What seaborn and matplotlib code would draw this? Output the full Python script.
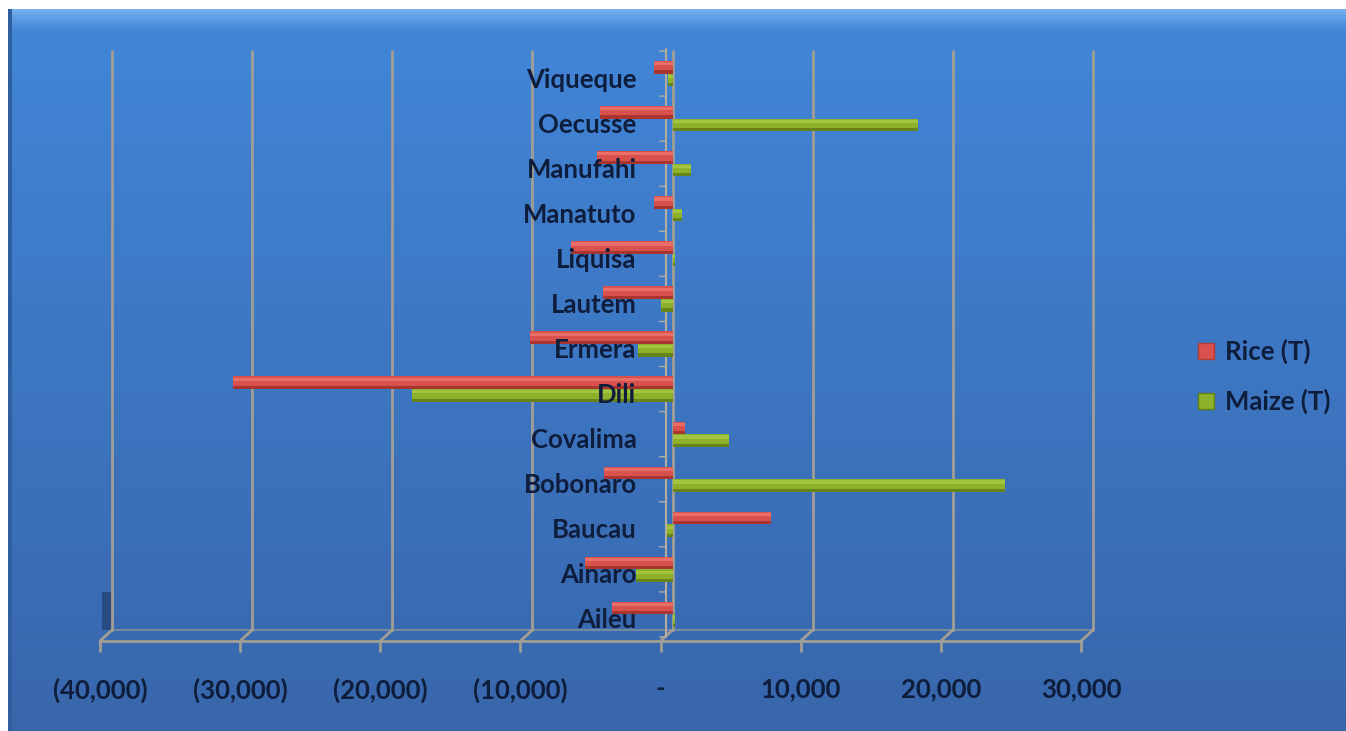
import numpy as np
import pandas as pd
import matplotlib
matplotlib.use("Agg")
import matplotlib.pyplot as plt
import seaborn as sns
from matplotlib.patches import Patch, Rectangle
from matplotlib.transforms import ScaledTranslation, blended_transform_factory
import matplotlib.colors as mcolors

# District production balance (tonnes), listed top to bottom
districts = ["Viqueque", "Oecusse", "Manufahi", "Manatuto", "Liquisa", "Lautem",
             "Ermera", "Dili", "Covalima", "Bobonaro", "Baucau", "Ainaro", "Aileu"]
rice_t = [-1350, -5200, -5400, -1300, -7250, -5000,
          -10200, -31400, 900, -4900, 7000, -6250, -4350]
maize_t = [-300, 17500, 1350, 650, 150, -800,
           -2500, -18600, 4000, 23700, -400, -2600, 200]
x_ticks = [-40000, -30000, -20000, -10000, 0, 10000, 20000, 30000]
x_tick_labels = ["(40,000)", "(30,000)", "(20,000)", "(10,000)", "-",
                 "10,000", "20,000", "30,000"]
series = ["Rice (T)", "Maize (T)"]

df = pd.DataFrame({
    "District": districts * 2,
    "Crop": [series[0]] * len(districts) + [series[1]] * len(districts),
    "Tonnes": rice_t + maize_t,
})

sns.set_theme(style="white")
plt.rcParams["font.family"] = ["Lato", "DejaVu Sans"]

W, H = 1346, 731
fig = plt.figure(figsize=(W / 100, H / 100), dpi=100)
fig.patch.set_facecolor("white")

# blue gradient chart background with a soft bevelled top edge
bg = fig.add_axes([8 / W, 0, 1 - 8 / W, 1 - 9 / H])
bg.set_axis_off()
top_c = np.array(mcolors.to_rgb("#4286d8"))
bot_c = np.array(mcolors.to_rgb("#3866ab"))
bevel_c = np.array(mcolors.to_rgb("#7ab2f0"))
t = np.linspace(0, 1, 700)[:, None]
base = top_c[None, :] * (1 - t) + bot_c[None, :] * t
glow = np.clip(1 - t / 0.035, 0, 1) ** 1.5
grad = (base * (1 - glow) + bevel_c[None, :] * glow)[:, None, :]
bg.imshow(grad, aspect="auto", extent=[0, 1, 0, 1], origin="upper")
bg.add_patch(Rectangle((0, 0), 0.003, 1, color="#2f5f9e", lw=0))
bg.set_xlim(0, 1)
bg.set_ylim(0, 1)

ax = fig.add_axes([112 / W, (H - 637) / H, 981 / W, 586 / H])
ax.patch.set_alpha(0)

red = "#d9514c"
green = "#8db12a"
sns.barplot(data=df, y="District", x="Tonnes", hue="Crop", order=districts,
            hue_order=series, palette=[red, green], saturation=1, width=0.56,
            orient="h", ax=ax, legend=False, edgecolor="none", linewidth=0,
            zorder=3)

# cylinder-like shading on each bar
edge_cols = {mcolors.to_hex(red): "#a8352f", mcolors.to_hex(green): "#66841a"}
light_cols = {mcolors.to_hex(red): "#ec766e", mcolors.to_hex(green): "#a9c946"}
for p in list(ax.patches):
    fc = mcolors.to_hex(p.get_facecolor()[:3])
    if fc not in edge_cols:
        continue
    x0, y0 = p.get_x(), p.get_y()
    w, h = p.get_width(), p.get_height()
    ax.add_patch(Rectangle((x0, y0 + h * 0.75), w, h * 0.25,
                           color=edge_cols[fc], lw=0, zorder=3.1))
    ax.add_patch(Rectangle((x0, y0 + h * 0.1), w, h * 0.25,
                           color=light_cols[fc], lw=0, zorder=3.1, alpha=0.8))

ax.set_xlim(-40000, 30000)
ax.set_ylim(len(districts) - 0.5, -0.5)
ax.set_xlabel("")
ax.set_ylabel("")
for s in ax.spines.values():
    s.set_visible(False)
ax.set_yticks([])
ax.tick_params(axis="x", length=0, pad=29)
ax.set_xticks(x_ticks)
ax.set_xticklabels(x_tick_labels, fontsize=18.5, fontweight="bold", color="#0f1d3c")
shift_left = ScaledTranslation(-12 / 100, 0, fig.dpi_scale_trans)
for lab in ax.get_xticklabels():
    lab.set_transform(lab.get_transform() + shift_left)

# perspective walls: back grid lines, floor edges and front ticks
grid_c = "#a29e94"
bt = blended_transform_factory(ax.transData, ax.transAxes)
front = bt + ScaledTranslation(-12 / 100, -11 / 100, fig.dpi_scale_trans)
y_back = 7 / 586
for v in x_ticks:
    ax.plot([v, v], [y_back, 1.0], transform=bt, color=grid_c, lw=2,
            zorder=1, clip_on=False)
    ax.annotate("", xy=(v, y_back), xycoords=bt,
                xytext=(v, y_back), textcoords=front,
                arrowprops=dict(arrowstyle="-", color=grid_c, lw=2,
                                shrinkA=0, shrinkB=0), zorder=1)
    ax.plot([v, v], [y_back, y_back - 10 / 586], transform=front,
            color=grid_c, lw=2, zorder=1, clip_on=False)
ax.plot([x_ticks[0], x_ticks[-1]], [y_back, y_back], transform=front,
        color=grid_c, lw=2, zorder=1, clip_on=False)
ax.plot([x_ticks[0], x_ticks[-1]], [y_back, y_back], transform=bt,
        color=grid_c, lw=1.5, zorder=1, clip_on=False, alpha=0.6)

# shaded left wall corner
corner_t = bt + ScaledTranslation(-10 / 100, 0, fig.dpi_scale_trans)
ax.add_patch(Rectangle((x_ticks[0], y_back), 700, 0.065, transform=corner_t,
                       color="#1f3e6e", lw=0, zorder=0.9, alpha=0.7,
                       clip_on=False))

# category axis at zero with boundary ticks
cat_t = ax.transData + ScaledTranslation(-7 / 100, 0, fig.dpi_scale_trans)
ax.plot([0, 0], [-0.55, len(districts) - 0.5], transform=cat_t,
        color="#b3ad9f", lw=1.5, zorder=2, clip_on=False)
tick_t = ax.transData + ScaledTranslation(-13 / 100, 0, fig.dpi_scale_trans)
for i in range(len(districts) + 1):
    ax.annotate("", xy=(0, i - 0.5), xycoords=cat_t,
                xytext=(0, i - 0.5), textcoords=tick_t,
                arrowprops=dict(arrowstyle="-", color="#b3ad9f", lw=1,
                                shrinkA=0, shrinkB=0), zorder=2)

# district names beside the zero line
lab_t = ax.transData + ScaledTranslation(-36 / 100, -6 / 100, fig.dpi_scale_trans)
for i, name in enumerate(districts):
    ax.text(0, i, name, transform=lab_t, ha="right", va="center",
            fontsize=18.5, fontweight="bold", color="#0f1d3c", zorder=4)

handles = [Patch(facecolor=red, edgecolor="#b03c38", label=series[0]),
           Patch(facecolor=green, edgecolor="#5f7d12", label=series[1])]
fig.legend(handles=handles, loc="upper left",
           bbox_to_anchor=(1175 / W, 1 - 316 / H), frameon=False,
           prop=dict(family="Lato", weight="bold", size=18.5),
           labelcolor="#0f1d3c", handlelength=0.6, handleheight=0.6,
           handletextpad=0.45, labelspacing=0.95)

fig.savefig("out.png", dpi=100)
